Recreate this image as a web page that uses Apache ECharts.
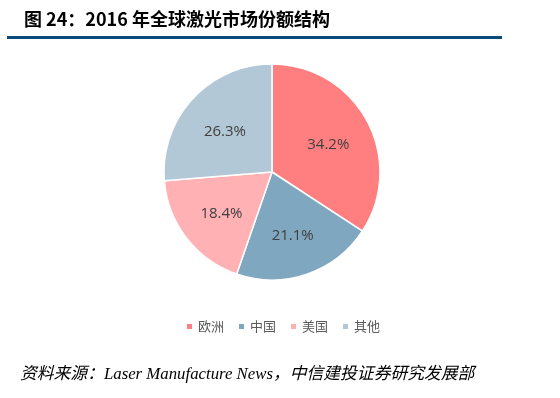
<!DOCTYPE html>
<html>
<head>
<meta charset="utf-8">
<script src="https://cdn.jsdelivr.net/npm/echarts@6/dist/echarts.min.js"></script>
<style>
  html, body { margin: 0; padding: 0; background: #fff; }
  #chart { width: 560px; height: 398px; }
</style>
</head>
<body>
<div id="chart"></div>
<script>
// 2016 年全球激光市场份额结构
const regions = ['欧洲', '中国', '美国', '其他'];
const shares = [34.2, 21.1, 18.4, 26.3];
const colors = ['#ff7f80', '#7fa7bf', '#ffb1b3', '#b3c8d6'];

const pieData = regions.map(function (r, i) { return { name: r, value: shares[i] }; });

const myChart = echarts.init(document.getElementById('chart'));
myChart.setOption({
  animation: false,
  color: colors,
  title: [
    {
      text: '图 24：2016 年全球激光市场份额结构',
      left: 19,
      top: 5,
      textStyle: {
        color: '#000',
        fontSize: 18,
        fontWeight: 'bold',
        fontFamily: '"Noto Sans CJK SC", "Noto Sans", sans-serif'
      }
    },
    {
      text: '资料来源：Laser Manufacture News，中信建投证券研究发展部',
      left: 15,
      top: 361,
      textStyle: {
        color: '#000',
        fontSize: 16.8,
        fontWeight: 'normal',
        fontStyle: 'italic',
        fontFamily: '"Liberation Serif", "Noto Sans CJK SC", serif'
      }
    }
  ],
  graphic: [
    {
      type: 'rect',
      shape: { x: 7, y: 36, width: 495, height: 3 },
      style: { fill: '#0b4a7b' }
    }
  ],
  legend: {
    left: 180,
    top: 315,
    icon: 'rect',
    itemWidth: 7,
    itemHeight: 7,
    itemGap: 13,
    textStyle: {
      color: '#595959',
      fontSize: 13,
      fontFamily: '"Noto Sans CJK SC", sans-serif'
    },
    data: regions
  },
  series: [
    {
      type: 'pie',
      center: [272, 172],
      radius: [0, 108],
      startAngle: 90,
      clockwise: true,
      itemStyle: { borderColor: '#fff', borderWidth: 1.5 },
      label: { show: false },
      labelLine: { show: false },
      data: pieData
    },
    // 标签层：透明扇区，只用来把百分比放得更靠外
    {
      type: 'pie',
      center: [272, 172],
      radius: [0, 122],
      startAngle: 90,
      clockwise: true,
      silent: true,
      z: 3,
      itemStyle: { color: 'transparent', borderWidth: 0 },
      label: {
        show: true,
        position: 'inner',
        offset: [0, 3],
        formatter: function (p) { return p.value.toFixed(1) + '%'; },
        color: '#404040',
        fontSize: 15,
        fontFamily: '"Open Sans", "Noto Sans", sans-serif'
      },
      labelLine: { show: false },
      data: pieData
    }
  ]
});
</script>
</body>
</html>
